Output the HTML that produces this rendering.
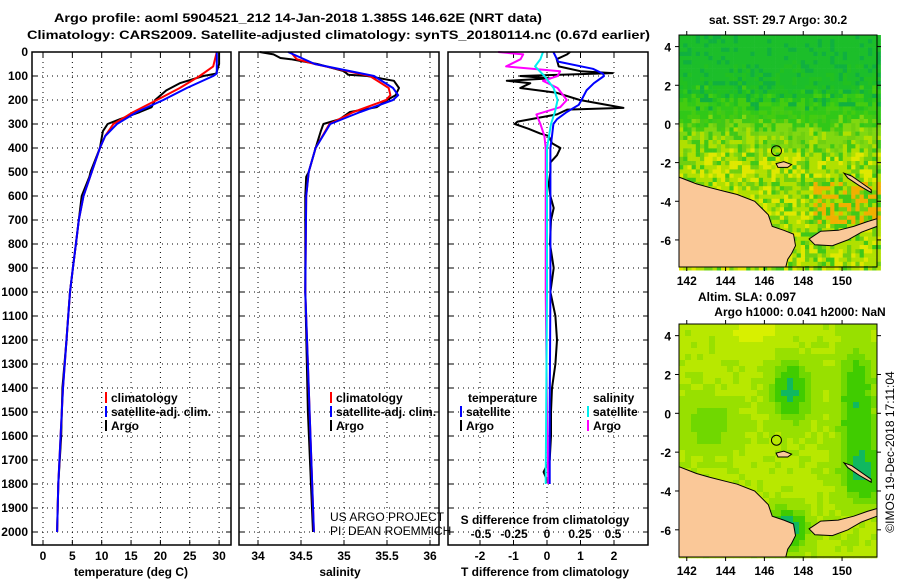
<!DOCTYPE html>
<html><head><meta charset="utf-8"><style>
html,body{margin:0;padding:0;background:#fff;}
svg{display:block;font-family:"Liberation Sans",sans-serif;}
.b{font-weight:bold;font-size:12px;}
</style></head><body>
<svg id="fig" width="900" height="580" viewBox="0 0 900 580" xmlns="http://www.w3.org/2000/svg">
<text class="b" x="54" y="22" textLength="488" lengthAdjust="spacingAndGlyphs" font-size="13">Argo profile: aoml 5904521_212 14-Jan-2018 1.385S 146.62E (NRT data)</text>
<text class="b" x="27" y="39" textLength="623" lengthAdjust="spacingAndGlyphs" font-size="13">Climatology: CARS2009. Satellite-adjusted climatology: synTS_20180114.nc (0.67d earlier)</text>
<g id="grids"></g>
<g id="series"></g>
<g id="maps"></g>
<g id="frames"></g>
<g id="labels"></g>
</svg>
<script>
// ---- profile data (depth m) ----
const tArgoDepth=[0,50,90,100,130,160,200,230,250,280,300,330,400,500,520,600,700,800,900,1000,1100,1200,1400,1600,1800,2000];
const tArgo=[30.0,30.0,29.5,27.3,23.3,21.0,19.1,18.5,16.5,13.1,11.0,10.2,9.7,8.1,7.9,6.6,6.1,5.6,5.1,4.6,4.3,4.0,3.3,3.1,2.6,2.4];
const tClimDepth=[0,60,100,150,200,250,300,350,400,500,600,700,800,900,1000,1200,1400,1600,1800,2000];
const tClim=[29.6,29.0,26.7,23.3,19.4,15.4,12.0,10.6,9.7,8.3,6.9,6.1,5.6,5.1,4.6,4.0,3.4,3.0,2.6,2.4];
const tSatDepth=[0,90,100,150,200,250,300,350,400,500,600,700,800,900,1000,1200,1400,1600,1800,2000];
const tSat=[29.6,29.6,29.0,24.5,20.5,16.0,12.6,10.6,9.7,8.3,6.9,6.1,5.6,5.1,4.6,4.0,3.4,3.0,2.6,2.4];
const sArgoDepth=[0,10,25,30,50,80,95,100,120,150,180,200,230,250,280,300,330,400,500,520,600,1000,1500,2000];
const sArgo=[34.02,34.18,34.26,34.38,34.69,35.0,35.05,35.27,35.58,35.64,35.60,35.50,35.38,35.07,34.95,34.76,34.73,34.67,34.59,34.56,34.55,34.55,34.58,34.64];
const sClimDepth=[0,30,50,80,100,150,180,200,250,300,400,500,600,1000,1500,2000];
const sClim=[34.38,34.45,34.66,35.04,35.30,35.52,35.54,35.49,35.11,34.83,34.67,34.59,34.56,34.55,34.60,34.65];
const sSatDepth=[0,50,100,150,180,200,250,300,400,500,600,1000,1500,2000];
const sSat=[34.35,34.66,35.35,35.57,35.63,35.57,35.19,34.84,34.67,34.59,34.56,34.55,34.60,34.65];
const dTArgoDepth=[0,10,30,60,80,88,100,110,120,130,150,170,200,233,240,260,290,300,320,340,350,380,400,430,460,500,550,600,650,700,800,900,1000,1100,1200,1300,1400,1500,1600,1700,1750,1800];
const dTArgo=[0.69,0.6,0.29,0.35,1.0,1.96,-0.8,0.1,-1.2,-0.5,-0.8,0.29,0.98,2.28,0.6,0.3,-0.88,-0.96,-0.55,-0.2,0.05,0.15,0.4,0.3,0.1,0.1,0.05,0.1,0.2,0.12,0.09,0.2,0.1,0.25,0.3,0.25,0.15,0.12,0.12,0.08,-0.1,0.05];
const dTSatDepth=[0,40,70,90,100,130,160,200,220,250,280,300,350,400,500,1000,1500,1800];
const dTSat=[0.19,0.33,1.37,1.67,1.7,1.4,1.18,1.03,0.95,0.59,0.3,0.19,0.15,0.1,0.1,0.1,0.08,0.08];
const dSArgoDepth=[0,10,30,60,80,100,120,150,200,230,260,300,350,400,500,1000,1500,1800];
const dSArgo=[-0.37,-0.18,-0.2,-0.31,0.1,0.08,-0.03,0.08,0.15,0.1,-0.08,-0.05,-0.02,-0.01,-0.01,-0.01,0.0,0.01];
const dSSatDepth=[0,30,60,100,150,200,250,300,400,1000,1800];
const dSSat=[-0.03,-0.05,-0.09,-0.02,0.05,0.08,0.06,0.03,0.0,0.0,-0.01];
// ---- axes ticks ----
const depthTicks=[0,100,200,300,400,500,600,700,800,900,1000,1100,1200,1300,1400,1500,1600,1700,1800,1900,2000];
const tTicks=[0,5,10,15,20,25,30];
const sTicks=[34,34.5,35,35.5,36];
const dTTicks=[-2,-1,0,1,2];
const dSTicks=[-0.5,-0.25,0,0.25,0.5];
const latTicks=[4,2,0,-2,-4,-6];
const lonTicks=[142,144,146,148,150];

const NS="http://www.w3.org/2000/svg";
function el(tag,attrs,parent,txt){const e=document.createElementNS(NS,tag);for(const k in attrs)e.setAttribute(k,attrs[k]);if(txt!==undefined)e.textContent=txt;parent.appendChild(e);return e;}
const yD=d=>52+d*0.24;
const xT=t=>43+t*5.87;
const xS=s=>258+(s-34)*86;
const xdT=v=>547+v*33.5;
const xdS=v=>547+v*132;
const panels=[[32,231],[239,439],[448,648]];
const PT=52,PB=545;
const G=document.getElementById('grids'),S=document.getElementById('series'),F=document.getElementById('frames'),L=document.getElementById('labels'),M=document.getElementById('maps');

panels.forEach((p,i)=>{
  depthTicks.forEach(d=>{if(d===0)return;
    const g=el('line',{x1:p[0],x2:p[1],y1:yD(d),y2:yD(d),stroke:'#000','stroke-width':1,'stroke-dasharray':'1,4'},G);
    
    el('line',{x1:p[0],x2:p[0]+5,y1:yD(d),y2:yD(d),stroke:'#000'},G);
    el('line',{x1:p[1]-5,x2:p[1],y1:yD(d),y2:yD(d),stroke:'#000'},G);
  });
});
function vgrid(ticks,fx){ticks.forEach(t=>{const x=fx(t);
  const g=el('line',{x1:x,x2:x,y1:PT,y2:PB,stroke:'#000','stroke-width':1,'stroke-dasharray':'1,4'},G);
  
  el('line',{x1:x,x2:x,y1:PT,y2:PT+5,stroke:'#000'},G);el('line',{x1:x,x2:x,y1:PB-5,y2:PB,stroke:'#000'},G);});}
vgrid(tTicks,xT);vgrid(sTicks,xS);vgrid(dTTicks,xdT);

function line(depths,vals,fx,color,name,w){
  const pts=depths.map((d,i)=>fx(vals[i]).toFixed(1)+','+yD(d).toFixed(1)).join(' ');
  const p=el('polyline',{points:pts,fill:'none',stroke:color,'stroke-width':w||2,'stroke-linejoin':'round'},S);
  
}
line(tArgoDepth,tArgo,xT,'#000','temperature-argo-line');
line(tClimDepth,tClim,xT,'#f00','temperature-climatology-line');
line(tSatDepth,tSat,xT,'#00f','temperature-satellite-line');
line(sArgoDepth,sArgo,xS,'#000','salinity-argo-line');
line(sClimDepth,sClim,xS,'#f00','salinity-climatology-line');
line(sSatDepth,sSat,xS,'#00f','salinity-satellite-line');
line(dTArgoDepth,dTArgo,xdT,'#000','t-diff-argo-line');
line(dSArgoDepth,dSArgo,xdS,'#f0f','s-diff-argo-line');
line(dTSatDepth,dTSat,xdT,'#00f','t-diff-satellite-line');
line(dSSatDepth,dSSat,xdS,'#0ee','s-diff-satellite-line');

panels.forEach((p,i)=>{const r=el('rect',{x:p[0],y:PT,width:p[1]-p[0],height:PB-PT,fill:'none',stroke:'#000','stroke-width':1.5},F);
  });

depthTicks.forEach(d=>{const t=el('text',{class:'b',x:28,y:yD(d)+4,'text-anchor':'end'},L,String(d));
  });
function xlabels(ticks,fx,y){ticks.forEach(v=>{const t=el('text',{class:'b',x:fx(v),y:y,'text-anchor':'middle'},L,String(v));
  });}
xlabels(tTicks,xT,560);xlabels(sTicks,xS,560);xlabels(dTTicks,xdT,560);
xlabels(dSTicks,xdS,538);
function txt(x,y,s,name,anchor,extra){const t=el('text',Object.assign({class:'b',x:x,y:y,'text-anchor':anchor||'start'},extra||{}),L,s);
  return t;}
txt(131,576,'temperature (deg C)','temperature-axis-title','middle');
txt(340,576,'salinity','salinity-axis-title','middle');
txt(545,576,'T difference from climatology','t-diff-axis-title','middle');
txt(545,524,'S difference from climatology','s-diff-axis-title','middle');
function leg(x,y,color,s,name){el('line',{x1:x,x2:x,y1:y-10,y2:y+1,stroke:color,'stroke-width':2},L);txt(x+5,y,s,name);}
leg(106,402,'#f00','climatology','legend-climatology');
leg(106,416,'#00f','satellite-adj. clim.','legend-satellite-adj');
leg(106,430,'#000','Argo','legend-argo');
leg(331,402,'#f00','climatology','legend-climatology-s');
leg(331,416,'#00f','satellite-adj. clim.','legend-satellite-adj-s');
leg(331,430,'#000','Argo','legend-argo-s');
txt(468,402,'temperature','legend-temperature-heading');
leg(461,416,'#00f','satellite','legend-t-satellite');
leg(461,430,'#000','Argo','legend-t-argo');
txt(593,402,'salinity','legend-salinity-heading');
leg(588,416,'#0ee','satellite','legend-s-satellite');
leg(588,430,'#f0f','Argo','legend-s-argo');
txt(330,521,'US ARGO PROJECT','project-credit',null,{style:'font-weight:normal;font-size:12px'});
txt(330,535,'PI: DEAN ROEMMICH','pi-credit',null,{style:'font-weight:normal;font-size:12px'});

// ---- maps ----
const lonMin=141.6,lonMax=151.8,latMin=-7.4,latMax=4.6;
const maps=[{top:35,bot:267,name:'sst-map'},{top:324,bot:557,name:'sla-map'}];
const land=[[141.6,-2.75],[142.5,-3.1],[143.2,-3.3],[144.0,-3.5],[144.6,-3.65],[145.5,-4.0],[145.9,-4.4],[146.2,-4.7],[146.4,-5.3],[147.0,-5.5],[147.5,-5.7],[147.6,-6.3],[147.4,-6.7],[147.2,-7.0],[147.1,-7.4],[141.6,-7.4]];
const island=[[148.3,-5.95],[148.9,-5.55],[149.8,-5.5],[150.6,-5.3],[151.3,-5.05],[151.8,-4.9],[151.8,-5.3],[151.0,-5.6],[150.3,-6.0],[149.5,-6.3],[148.6,-6.25]];
const manus=[[146.6,-2.05],[147.0,-1.95],[147.4,-2.1],[147.2,-2.25],[146.7,-2.25]];
const nireland=[[150.1,-2.55],[150.5,-2.7],[151.0,-3.05],[151.5,-3.4],[151.5,-3.55],[150.9,-3.2],[150.3,-2.8]];
function hsh(i,j){let h=(i*374761393+j*668265263)>>>0;h=(h^(h>>>13))*1274126177>>>0;return ((h^(h>>>16))>>>0)/4294967295;}
maps.forEach((m,mi)=>{
  const x0=679,x1=877;const sx=(x1-x0)/(lonMax-lonMin),sy=(m.bot-m.top)/(latMax-latMin);
  const px=lo=>x0+(lo-lonMin)*sx,py=la=>m.top+(latMax-la)*sy;
  const g=el('g',{},M);
  const cell=mi===0?4.2:6;
  for(let y=m.top;y<m.bot;y+=cell){for(let x=x0;x<x1;x+=cell){
    const la=latMax-(y-m.top)/sy,lo=lonMin+(x-x0)/sx,r=hsh(Math.round(x),Math.round(y)+mi*1000);let c;
    if(mi===0){const f=(la-0.2)/3+ (r-0.5)*0.9;
      if(f>0.6)c=r>0.85?'#10b040':'#1cbe2a';else if(f>0.2)c=r>0.5?'#30c818':'#22c020';else if(f>-0.2)c=r>0.5?'#80d810':'#44cc10';
      else c=(lo>148.5&&la<-3&&la>-5&&r>0.5)?'#f0b000':(r>0.75?'#e0e800':(r>0.35?'#b0e000':(r>0.15?'#70d010':'#40c818')));}
    else{let f=0.5-Math.exp(-((lo-147.2)**2/0.8+(la-1.3)**2/2.0))*0.7-Math.exp(-((lo-150.6)**2/0.7+(la-0.5)**2/8))*0.6-Math.exp(-((lo-143)**2/2+(la+0.5)**2/1.5))*0.3-Math.exp(-((lo-151)**2/1+(la+3)**2/2))*0.6-Math.exp(-((lo-147)**2/0.8+(la+5.8)**2/0.8))*1.0+Math.exp(-((lo-145.5)**2/2+(la-4.5)**2/1))*0.25+(r-0.5)*0.08;
      c=f>0.65?'#d8f000':f>0.48?'#b8e800':f>0.33?'#98e000':f>0.18?'#70d800':f>-0.1?'#40cc00':'#10b860';}
    el('rect',{x:x,y:y,width:cell+0.3,height:cell+0.3,fill:c},g);}}
  [land,island,manus,nireland].forEach((poly,k)=>{const p=el('polygon',{points:poly.map(q=>px(q[0]).toFixed(1)+','+py(q[1]).toFixed(1)).join(' '),fill:'#fac898',stroke:'#000','stroke-width':1},g);
    });
  const c=el('circle',{cx:px(146.62),cy:py(-1.385),r:5,fill:'none',stroke:'#000','stroke-width':1},g);
  
  el('rect',{x:x0,y:m.top,width:x1-x0,height:m.bot-m.top,fill:'none',stroke:'#000','stroke-width':1},g);
  latTicks.forEach(la=>{const y=py(la);el('line',{x1:x0-4,x2:x0,y1:y,y2:y,stroke:'#000'},g);el('line',{x1:x1,x2:x1+4,y1:y,y2:y,stroke:'#000'},g);
    const t=el('text',{class:'b',x:671,y:y+5,'text-anchor':'end','font-size':13},g,String(la));});
  lonTicks.forEach(lo=>{const x=px(lo);el('line',{x1:x,x2:x,y1:m.bot,y2:m.bot+4,stroke:'#000'},g);el('line',{x1:x,x2:x,y1:m.top-4,y2:m.top,stroke:'#000'},g);
    const t=el('text',{class:'b',x:x,y:m.bot+18,'text-anchor':'middle','font-size':13},g,String(lo));});
});
txt(778,24,'sat. SST: 29.7 Argo: 30.2','sst-map-title','middle');
txt(747,301,'Altim. SLA: 0.097','sla-map-title','middle');
txt(800,316,'Argo h1000: 0.041 h2000: NaN','argo-height-title','middle');
txt(0,0,'©IMOS 19-Dec-2018 17:11:04','imos-credit','middle',{transform:'translate(894,452) rotate(-90)',style:'font-weight:normal;font-size:12px'});
</script>
</body></html>
